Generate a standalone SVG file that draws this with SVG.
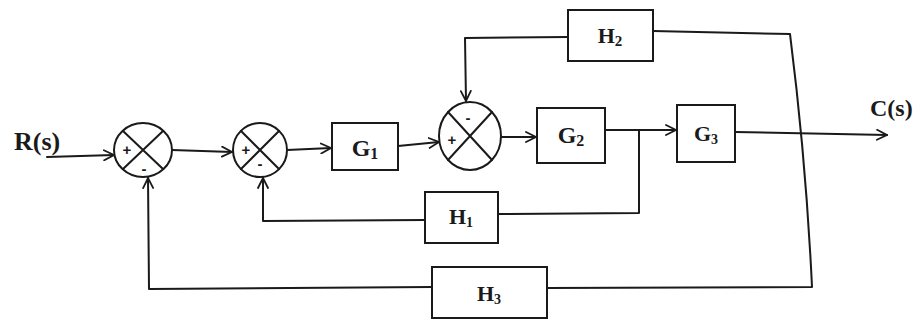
<svg xmlns="http://www.w3.org/2000/svg" width="920" height="328" viewBox="0 0 920 328">
<style>
.ln{fill:none;stroke:#1a1a1a;stroke-width:2;stroke-linecap:round;stroke-linejoin:round}
.bx{fill:#fff;stroke:#1a1a1a;stroke-width:2}
.sm{fill:#fff;stroke:#1a1a1a;stroke-width:2}
.t{font-family:"Liberation Serif","DejaVu Serif",serif;font-weight:bold;fill:#1a1a1a}
.sg{font-family:"Liberation Sans",Arial,sans-serif;font-size:15px;font-weight:bold;fill:#1a1a1a}
</style>
<defs>
<marker id="a" viewBox="0 0 12 12" refX="11" refY="6" markerWidth="12" markerHeight="12" markerUnits="userSpaceOnUse" orient="auto">
<path d="M1,1 L11,6 L1,11" fill="none" stroke="#1a1a1a" stroke-width="1.8" stroke-linecap="round"/>
</marker>
</defs>
<rect width="920" height="328" fill="#fff"/>
<g id="connectors">
<path class="ln" d="M47,157 L114,155" marker-end="url(#a)"/>
<path class="ln" d="M172,150 L232,152" marker-end="url(#a)"/>
<path class="ln" d="M287,150 L331,148" marker-end="url(#a)"/>
<path class="ln" d="M398,146 L439,142" marker-end="url(#a)"/>
<path class="ln" d="M501,137 L536,137" marker-end="url(#a)"/>
<path class="ln" d="M605,130 L676,130" marker-end="url(#a)"/>
<path class="ln" d="M735,132 L887,135" marker-end="url(#a)"/>
<path class="ln" d="M639,130 L639,213 L498,214"/>
<path class="ln" d="M425,220 L263,221 L263,178" marker-end="url(#a)"/>
<path class="ln" d="M653,31 L790,34 Q806,160 812,287 L547,288"/>
<path class="ln" d="M568,37 L465,38 L466,101" marker-end="url(#a)"/>
<path class="ln" d="M432,287 L149,289 L148,178" marker-end="url(#a)"/>
</g>
<g id="sum1">
<ellipse class="sm" cx="143" cy="150" rx="29" ry="27"/>
<path class="ln" d="M123,131 L163,169 M163,131 L123,169"/>
<text class="sg" x="127" y="155" text-anchor="middle">+</text>
<text class="sg" x="144" y="174" text-anchor="middle">-</text>
</g>
<g id="sum2">
<ellipse class="sm" cx="260" cy="150" rx="27" ry="27"/>
<path class="ln" d="M241,131 L279,169 M279,131 L241,169"/>
<text class="sg" x="246" y="155" text-anchor="middle">+</text>
<text class="sg" x="260" y="169" text-anchor="middle">-</text>
</g>
<g id="sum3">
<ellipse class="sm" cx="470" cy="136" rx="31" ry="34"/>
<path class="ln" d="M448,112 L492,160 M492,112 L448,160"/>
<text class="sg" x="468" y="123" text-anchor="middle">-</text>
<text class="sg" x="452" y="145" text-anchor="middle">+</text>
</g>
<g id="G1">
<rect class="bx" x="332" y="123" width="66" height="47"/>
<text class="t" x="365" y="156" font-size="24" text-anchor="middle">G<tspan font-size="16" dy="3">1</tspan></text>
</g>
<g id="G2">
<rect class="bx" x="537" y="108" width="68" height="55"/>
<text class="t" x="571" y="143" font-size="24" text-anchor="middle">G<tspan font-size="16" dy="3">2</tspan></text>
</g>
<g id="G3">
<rect class="bx" x="677" y="105" width="58" height="57"/>
<text class="t" x="706" y="141" font-size="22" text-anchor="middle">G<tspan font-size="14" dy="3">3</tspan></text>
</g>
<g id="H1">
<rect class="bx" x="425" y="192" width="73" height="51"/>
<text class="t" x="461" y="224" font-size="22" text-anchor="middle">H<tspan font-size="14" dy="3">1</tspan></text>
</g>
<g id="H2">
<rect class="bx" x="568" y="10" width="85" height="51"/>
<text class="t" x="610" y="43" font-size="22" text-anchor="middle">H<tspan font-size="15" dy="3">2</tspan></text>
</g>
<g id="H3">
<rect class="bx" x="432" y="267" width="115" height="51"/>
<text class="t" x="489" y="301" font-size="22" text-anchor="middle">H<tspan font-size="14" dy="3">3</tspan></text>
</g>
<g id="labels">
<text class="t" x="14" y="150" font-size="26">R(s)</text>
<text class="t" x="870" y="116" font-size="24">C(s)</text>
</g>
</svg>
